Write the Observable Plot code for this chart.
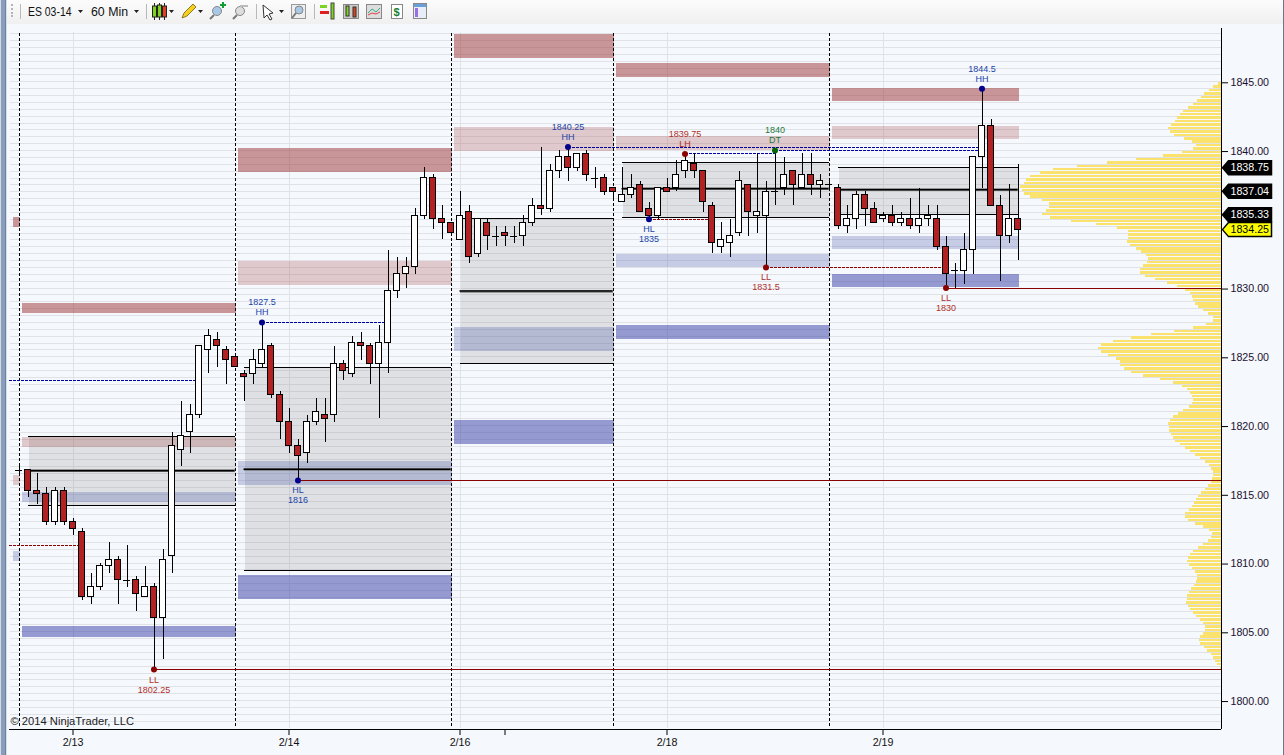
<!DOCTYPE html>
<html>
<head>
<meta charset="utf-8">
<script src="https://cdn.jsdelivr.net/npm/d3@7"></script>
<script src="https://cdn.jsdelivr.net/npm/@observablehq/plot@0.6"></script>
<style>
html,body{margin:0;padding:0;background:#f5f8fc;overflow:hidden;width:1284px;height:755px;font-family:"Liberation Sans",Arial,sans-serif}
#bar{display:block;width:1284px;height:24px}
#chart svg{display:block}
#strip{position:fixed;left:0;top:0;width:7px;height:755px;background:linear-gradient(90deg,#d3dbe8 0,#d3dbe8 1px,#8a9dbb 1px,#8a9dbb 5px,#6f82a2 5px,#6f82a2 6px,#d8dfea 6px)}
#edge{position:fixed;right:0;top:0;width:1px;height:755px;background:#6b7688}
</style>
</head>
<body>
<div id="strip"></div><div id="edge"></div>
<svg id="bar" viewBox="0 0 1284 24" xmlns="http://www.w3.org/2000/svg">
<defs><linearGradient id="g" x1="0" y1="0" x2="0" y2="1"><stop offset="0" stop-color="#fcfcfc"/><stop offset="1" stop-color="#f0f0f0"/></linearGradient></defs>
<rect width="1284" height="24" fill="url(#g)"/>
<g fill="#b5b5b5"><rect x="11" y="4" width="2" height="2"/><rect x="11" y="8" width="2" height="2"/><rect x="11" y="12" width="2" height="2"/><rect x="11" y="15" width="2" height="2"/></g>
<g stroke="#b9b9b9"><path d="M20.500 4V19M146.500 4V19M256.500 4V19M314.500 4V19"/></g>
<g font-family="Liberation Sans, Arial, sans-serif" font-size="12.500" fill="#111"><text x="28" y="15.500" textLength="43.500" lengthAdjust="spacingAndGlyphs">ES 03-14</text><text x="91" y="15.500" textLength="37" lengthAdjust="spacingAndGlyphs">60 Min</text></g>
<g fill="#222"><path d="M78 10h5l-2.500 3zM134 10h5l-2.500 3zM169 10h5l-2.500 3zM198 10h5l-2.500 3zM279 10h5l-2.500 3z"/></g>
<g stroke="#222" stroke-width="1"><path d="M154.500 3V20M159.500 3V20M164.500 3V20"/></g>
<rect x="152.500" y="6" width="4" height="11" fill="#7ed321" stroke="#222"/><rect x="157.500" y="5" width="4" height="12" fill="#7ed321" stroke="#222"/><rect x="162.500" y="6" width="4" height="11" fill="#e04020" stroke="#222"/>
<path d="M182 18l2-5 9-9 3 3-9 9z" fill="#f5d020" stroke="#8a7a20"/>
<g fill="#a8c8e8" stroke="#888"><circle cx="217" cy="11" r="4.500"/><circle cx="240" cy="11" r="4.500" fill="#ddd"/></g>
<path d="M214 15l-4 4M237 15l-4 4" stroke="#777" stroke-width="2"/>
<path d="M220 5h6M223 2v6" stroke="#10a030" stroke-width="2"/><path d="M240 6h8" stroke="#bbb" stroke-width="2"/>
<path d="M263 5l10 8-4 1 3 5-2 1-3-5-3 3z" fill="#fff" stroke="#333"/>
<rect x="291.500" y="4.500" width="14" height="14" fill="#eee" stroke="#999"/><circle cx="299" cy="10" r="4" fill="#a8c8e8" stroke="#888"/><path d="M296 13l-4 5" stroke="#777" stroke-width="2"/>
<g><rect x="320" y="5" width="7" height="3" fill="#7ed321"/><rect x="320" y="11" width="9" height="3" fill="#e02020"/><rect x="331" y="3" width="3" height="16" fill="#7ed321" stroke="#444"/></g>
<rect x="343.500" y="4.500" width="15" height="14" fill="#ccc" stroke="#888"/><rect x="346" y="6" width="3" height="10" fill="#7ed321" stroke="#333"/><rect x="353" y="7" width="3" height="10" fill="#e04020" stroke="#333"/>
<rect x="366.500" y="4.500" width="15" height="14" fill="#ddd" stroke="#888"/><path d="M368 13l4-4 4 3 4-4" fill="none" stroke="#3a8" /><path d="M368 15l4-2 4 1 4-2" fill="none" stroke="#d44"/>
<rect x="391.500" y="4.500" width="11" height="14" fill="#fff" stroke="#888"/><text x="393.500" y="16" font-family="Liberation Sans, Arial, sans-serif" font-size="11" font-weight="bold" fill="#1a8030">$</text>
<rect x="413.500" y="3.500" width="13" height="15" fill="#e8eef8" stroke="#888"/><rect x="414" y="4" width="12" height="3" fill="#6aa0d8"/><rect x="415" y="8" width="3" height="9" fill="#9a70e0"/>
</svg>
<div id="chart"></div>
<script>
// Session candles (bar index = array position)
const opens = [1816.75,1816.75,1815.25,1815,1813,1815.25,1813,1812.25,1807.5,1808.25,1809.75,1810.25,1808.75,1808.75,1807.5,1808.25,1806,1810.5,1818.25,1819.5,1820.75,1825.5,1826.25,1825.5,1825,
1823.75,1823.75,1824.5,1825.75,1822.25,1820.25,1818.5,1818,1820.25,1820.75,1820.75,1824.5,1823.75,1826,1825.75,1824.5,1826,1829.75,1831,1831.5,1835.25,1838,1835,1834.75,
1833.5,1835.5,1832.5,1834.75,1833.75,1834,1833.75,1833.75,1834.75,1836,1835.75,1838.5,1839.5,1838.75,1839.75,1838,1838,1837.25,
1836.25,1836.75,1837.5,1835.75,1835.25,1837.25,1837.25,1838.5,1839,1838.5,1836,1833,1833.25,1834,1837.5,1835.25,1835.25,1837,1837.25,1838.5,1837.25,1838.25,1837.5,1837.5,
1837.25,1834.5,1835,1836.75,1835.75,1835,1835.25,1834.75,1835,1834.5,1835,1835,1833,1831.25,1831.25,1832.75,1839.5,1841.75,1836,1833.75,1835];
const highs = [1817.25,1816.75,1816.5,1815.5,1815.5,1815.5,1813.25,1812.5,1809.25,1810,1811.5,1810.5,1811.25,1809,1809.75,1808.5,1811,1819.5,1821.75,1821.5,1825.75,1827,1826.75,1825.75,1825,
1824,1825.5,1827.5,1826,1822.5,1821.25,1819,1820.75,1822,1822,1825.75,1824.75,1826.5,1826.75,1826,1827.25,1832.75,1832.25,1832.25,1835.75,1838.75,1838.25,1836,1834.75,
1837,1836,1835,1835,1834.5,1834.5,1834.5,1835.25,1836.5,1840.25,1839,1840,1840.25,1839.75,1840,1838.75,1838.25,1837.25,
1838.75,1838.25,1837.75,1836.25,1837.25,1838,1839.25,1839.75,1839.75,1838.5,1836.25,1834.75,1835,1838.5,1837.5,1839.75,1837.75,1840,1839.5,1838.5,1839.75,1839.75,1838.25,1837.75,
1837.5,1836,1837,1837,1836.25,1835.5,1836,1835.5,1836.5,1837.25,1836,1836,1833.75,1831.75,1834,1839.5,1844.5,1842.25,1836.75,1837.5,1839];
const lows = [1816.5,1814.75,1814.25,1812.75,1812.75,1812.75,1812,1807.25,1807,1808,1809.25,1807,1808.25,1806.5,1807.5,1802.25,1803,1809.25,1817,1818,1820.5,1823.75,1824.25,1823,1824.25,
1821.75,1823,1824.25,1822,1819,1818,1816,1817.25,1820,1818.75,1820.25,1823.25,1823.5,1824.75,1823,1820.5,1823.75,1829.25,1830,1831,1835,1834.25,1833.5,1834,
1833.5,1831.75,1832.25,1832.75,1833,1833,1833.25,1833,1834.5,1835.25,1835.5,1838,1837.75,1838.5,1837.75,1837.25,1836.75,1836.5,
1836.25,1836.5,1835.5,1835,1835,1837,1837,1838,1838,1835.5,1832.5,1832.5,1832.25,1833.75,1833.75,1834,1831.5,1836,1836.75,1836,1837.25,1836.75,1836.5,1837.25,
1834.25,1834,1834.25,1834.5,1834.75,1834.75,1834.5,1834.5,1834.25,1834,1834.5,1832.75,1830,1830,1830.25,1831,1837.25,1836,1830.5,1833.25,1832];
const closes = [1816.75,1815.25,1815,1813,1815.25,1813,1812.5,1807.5,1808.25,1809.75,1810.25,1808.75,1808.75,1807.75,1808.25,1806,1810.25,1818.5,1819.25,1820.75,1825.75,1826.5,1825.75,1824.75,1824.25,
1823.5,1824.75,1825.5,1822.25,1820.25,1818.5,1817.75,1820.25,1821,1820.5,1824.5,1824,1826,1825.75,1824.5,1826,1829.75,1831,1831.5,1835.25,1838,1835,1834.75,1834,
1835.25,1832.25,1835,1833.75,1833.75,1833.75,1833.75,1834.75,1836,1835.75,1838.5,1839.5,1838.75,1839.75,1838.25,1838,1837,1837,
1836.75,1837.25,1835.5,1835.25,1837.25,1837,1838.25,1839.25,1838.5,1836.25,1833.25,1833.5,1833.75,1837.75,1835.5,1835.5,1837,1837,1838.25,1837.5,1838.25,1837.5,1837.75,1837.5,
1834.5,1835,1836.75,1835.75,1834.75,1835.25,1834.75,1835,1834.5,1835,1835.25,1833,1831,1831.25,1832.75,1839.5,1841.75,1836,1833.75,1835,1834.25];

// Volume profile, one row per quarter point, from the top price downwards
const profileTop = 1845;
const profile = [3,8,12,17,20,24,28,33,38,41,44,46,50,53,51,47,37,29,25,28,39,58,85,114,144,168,181,191,195,197,201,199,197,191,179,172,172,175,179,171,150,125,104,93,93,93,94,91,85,80,75,73,74,78,81,81,76,66,54,44,
36,31,29,28,26,23,18,13,8,8,15,28,47,70,90,
108,120,123,120,113,105,101,101,97,90,78,61,48,39,34,31,29,28,29,32,38,43,48,51,53,52,52,50,48,46,41,36,31,26,21,16,12,10,8,8,9,10,13,16,20,23,25,27,29,32,36,36,33,26,18,12,9,10,13,18,23,28,31,33,34,32,29,26,24,24,25,27,30,32,34,34,35,33,31,28,25,21,18,16,16,18,21,22,21,17,14,10,8,6,4,1];

// Zones: [from bar, to bar, price, price]
const zonesDarkRed = [[-0.72,0,1835.18,1834.45],[0.28,24,1828.93,1828.2],[24.28,48,1840.2,1838.45],[48.28,66,1848.49,1846.75],[66.28,90,1846.38,1845.36],[90.28,111,1844.56,1843.62]];
const zonesLightRed = [[-0.72,0,1816.42,1815.69],[0.28,24,1819.18,1818.45],[24.28,48,1831.98,1830.24],[48.28,66,1841.73,1839.98],[66.28,90,1841.07,1840.05],[90.28,111,1841.8,1840.85]];
const zonesLightBlue = [[-0.72,0,1810.89,1810.16],[0.28,24,1815.18,1814.45],[24.28,48,1817.44,1815.69],[48.28,66,1827.18,1825.44],[66.28,90,1832.54,1831.55],[90.28,111,1833.8,1832.85]];
const zonesStrongBlue = [[0.28,24,1805.44,1804.64],[24.28,48,1809.15,1807.4],[48.28,66,1820.42,1818.67],[66.28,90,1827.33,1826.31],[90.28,111,1831.04,1830.09]];
// Value-area boxes: [from bar, to bar, top, middle, bottom]
const valueBoxes = [[1,24,1819.18,1816.71,1814.16],[25,48,1824.2,1816.83,1809.47],[49,66,1835.09,1829.78,1824.49],[67,90,1839.16,1837.22,1835.16],[91,111,1838.8,1837.15,1835.38]];

const sessionBars = [0,24,48,66,90];
const dateBars = [6,30,49,72,96];
const dateLabels = ["2/13","2/14","2/16","2/18","2/19"];
const spareTickBar = [54];
const priceTicks = [1800,1805,1810,1815,1820,1825,1830,1840,1845];

// Swing pivots
const pivots = [
 {bar:15,price:1802.25,kind:"LL",num:"1802.25",below:true,side:"low"},
 {bar:27,price:1827.5,kind:"HH",num:"1827.5",below:false,side:"high"},
 {bar:31,price:1816,kind:"HL",num:"1816",below:true,side:"high"},
 {bar:61,price:1840.25,kind:"HH",num:"1840.25",below:false,side:"high"},
 {bar:70,price:1835,kind:"HL",num:"1835",below:true,side:"high"},
 {bar:74,price:1839.75,kind:"LH",num:"1839.75",below:false,side:"low"},
 {bar:83,price:1831.5,kind:"LL",num:"1831.5",below:true,side:"low"},
 {bar:84,price:1840,kind:"DT",num:"1840",below:false,side:"dt"},
 {bar:103,price:1830,kind:"LL",num:"1830",below:true,side:"low"},
 {bar:107,price:1844.5,kind:"HH",num:"1844.5",below:false,side:"high"}
];
const blueDashes = [[-1.05,19.83,1823.29],[27,41,1827.5],[61,107,1840.25],[74,84,1839.75],[84,107,1840]];
const redDashes = [[-1.05,7,1811.29],[70,77,1835],[83,103,1831.5]];
const redLevels = [[15,1802.25],[31,1816],[103,1830]];
const flags = [{p:1838.75,t:"1838.75",c:"#000",tc:"#fff"},{p:1837.04,t:"1837.04",c:"#000",tc:"#fff"},{p:1835.33,t:"1835.33",c:"#000",tc:"#fff"},{p:1834.25,t:"1834.25",c:"#ffff00",tc:"#000"}];

const edge = 133.61, leftEdge = -1.0556;
const yBottom = 1797.895, yTop = 1848.877;
const candles = opens.map((o,i)=>({bar:i,open:o,high:highs[i],low:lows[i],close:closes[i]}));
const rows = profile.map((v,i)=>({price:profileTop-i*0.25,vol:v}));
const gridPrices = d3.range(1798.5,1849,0.5);
const flagShape = {draw(c){c.moveTo(0,0);c.lineTo(6,-7);c.lineTo(49,-7);c.lineTo(49,7);c.lineTo(6,7);c.closePath();}};
const textOf = {high:"#2143a8",low:"#b0302a",dt:"#1d7a40"};
const crisp = {shapeRendering:"crispEdges"};
const nudge = {dx:1,dy:1};
const zoneMark = (list,fill,op)=>Plot.rect(list,{x1:d=>d[0],x2:d=>d[1],y1:d=>d[2],y2:d=>d[3],fill,fillOpacity:op,...nudge,...crisp});
const dashMark = (list,stroke)=>Plot.ruleY(list,{x1:d=>d[0],x2:d=>d[1],y:d=>d[2],stroke,strokeWidth:1,strokeDasharray:"3,1",...crisp});

const plot = Plot.plot({
  width:1284,height:731,marginTop:4,marginBottom:26,marginLeft:9,marginRight:63,
  style:{background:"transparent",fontFamily:"Liberation Sans, Arial, sans-serif"},
  x:{type:"linear",domain:[leftEdge,edge],axis:null},
  y:{type:"linear",domain:[yBottom,yTop],axis:null},
  marks:[
    Plot.ruleY(gridPrices,{x1:-1,x2:edge,y:d=>d,stroke:"#e0e2e6",strokeWidth:1,...crisp}),
    Plot.ruleX(dateBars,{x:d=>d,y1:1798,y2:1848.6,stroke:"#e0e2e6",strokeWidth:1,...crisp}),
    Plot.rect(valueBoxes,{x1:d=>d[0],x2:d=>d[1],y1:d=>d[2],y2:d=>d[4],fill:"#808080",fillOpacity:0.2,...nudge,...crisp}),
    zoneMark(zonesDarkRed,"#a03c3c",0.52),
    zoneMark(zonesLightRed,"#a03c3c",0.25),
    zoneMark(zonesLightBlue,"#3c46a5",0.25),
    zoneMark(zonesStrongBlue,"#2c36a0",0.48),
    Plot.rect(rows,{x1:d=>edge-d.vol/9,x2:edge,y1:d=>d.price-0.16,y2:d=>d.price+0.02,fill:"#fbe26c",dy:1,...crisp}),
    Plot.ruleY(valueBoxes,{x1:d=>d[0],x2:d=>d[1],y:d=>d[2],stroke:"#000",strokeWidth:1,...crisp}),
    Plot.ruleY(valueBoxes,{x1:d=>d[0],x2:d=>d[1],y:d=>d[4],stroke:"#000",strokeWidth:1,...crisp}),
    Plot.ruleY(valueBoxes,{x1:d=>d[0],x2:d=>d[1],y:d=>d[3],stroke:"#777",strokeWidth:3,strokeOpacity:0.7,...crisp}),
    Plot.ruleY(valueBoxes,{x1:d=>d[0],x2:d=>d[1],y:d=>d[3],stroke:"#000",strokeWidth:1.5}),
    Plot.ruleX(sessionBars,{x:d=>d,y1:1798.1,y2:1848.6,stroke:"#000",strokeWidth:1,strokeDasharray:"3,2",...crisp}),
    dashMark(blueDashes,"#0000a0"),
    dashMark(redDashes,"#8b0000"),
    Plot.ruleY(redLevels,{x1:d=>d[0],x2:edge,y:d=>d[1],stroke:"#8b0000",strokeWidth:1,...crisp}),
    Plot.ruleX(candles,{x:"bar",y1:"low",y2:"high",stroke:"#000",strokeWidth:1,...crisp}),
    Plot.rect(candles.filter(d=>d.close>d.open),{x1:d=>d.bar-0.33,x2:d=>d.bar+0.33,y1:"open",y2:"close",fill:"#fff",stroke:"#000",...crisp}),
    Plot.rect(candles.filter(d=>d.close<d.open),{x1:d=>d.bar-0.33,x2:d=>d.bar+0.33,y1:"open",y2:"close",fill:"#b22222",stroke:"#000",...crisp}),
    Plot.ruleY(candles.filter(d=>d.close===d.open),{x1:d=>d.bar-0.4,x2:d=>d.bar+0.4,y:"close",stroke:"#000",strokeWidth:1,...crisp}),
    Plot.dot(pivots.filter(d=>d.side==="high"),{x:"bar",y:"price",r:3,fill:"#00008b",stroke:"none"}),
    Plot.dot(pivots.filter(d=>d.side==="low"),{x:"bar",y:"price",r:3,fill:"#8b0000",stroke:"none"}),
    Plot.dot(pivots.filter(d=>d.side==="dt"),{x:"bar",y:"price",r:3,fill:"#006400",stroke:"none"}),
    ...["high","low","dt"].flatMap(s=>[true,false].flatMap(b=>{
      const set = pivots.filter(d=>d.side===s&&d.below===b);
      if(!set.length) return [];
      return [
        Plot.text(set,{x:"bar",y:"price",text:b?"kind":"num",dy:b?10:-20,fill:textOf[s],fontSize:9}),
        Plot.text(set,{x:"bar",y:"price",text:b?"num":"kind",dy:b?20:-10,fill:textOf[s],fontSize:9})
      ];
    })),
    Plot.ruleX([edge],{y1:yBottom,y2:yTop,stroke:"#000",strokeWidth:1,...crisp}),
    Plot.ruleY([yBottom],{x1:leftEdge,x2:edge,stroke:"#000",strokeWidth:1,...crisp}),
    Plot.axisY({anchor:"right",ticks:priceTicks,tickFormat:d=>d.toFixed(2),tickSize:6,tickPadding:3,fontSize:10.67,label:null,stroke:"#000",fill:"#1c1030",dy:1}),
    Plot.axisX({anchor:"bottom",ticks:dateBars,tickFormat:d=>dateLabels[dateBars.indexOf(d)],tickSize:6,tickPadding:3,fontSize:10.67,label:null,stroke:"#000",fill:"#111"}),
    Plot.axisX({anchor:"bottom",ticks:spareTickBar,tickFormat:()=>"",tickSize:6,label:null,stroke:"#000"}),
    Plot.dot(flags,{x:edge,y:"p",r:5,symbol:flagShape,dx:1,fill:"c",stroke:"#000"}),
    Plot.text(flags,{x:edge,y:"p",text:"t",dx:9,textAnchor:"start",fill:"tc",fontSize:10.67}),
    Plot.text(["© 2014 NinjaTrader, LLC"],{x:leftEdge,y:1798.45,text:d=>d,dx:1,textAnchor:"start",fontSize:11.2,fill:"#222"})
  ]
});
document.getElementById("chart").appendChild(plot);
</script>
</body>
</html>
